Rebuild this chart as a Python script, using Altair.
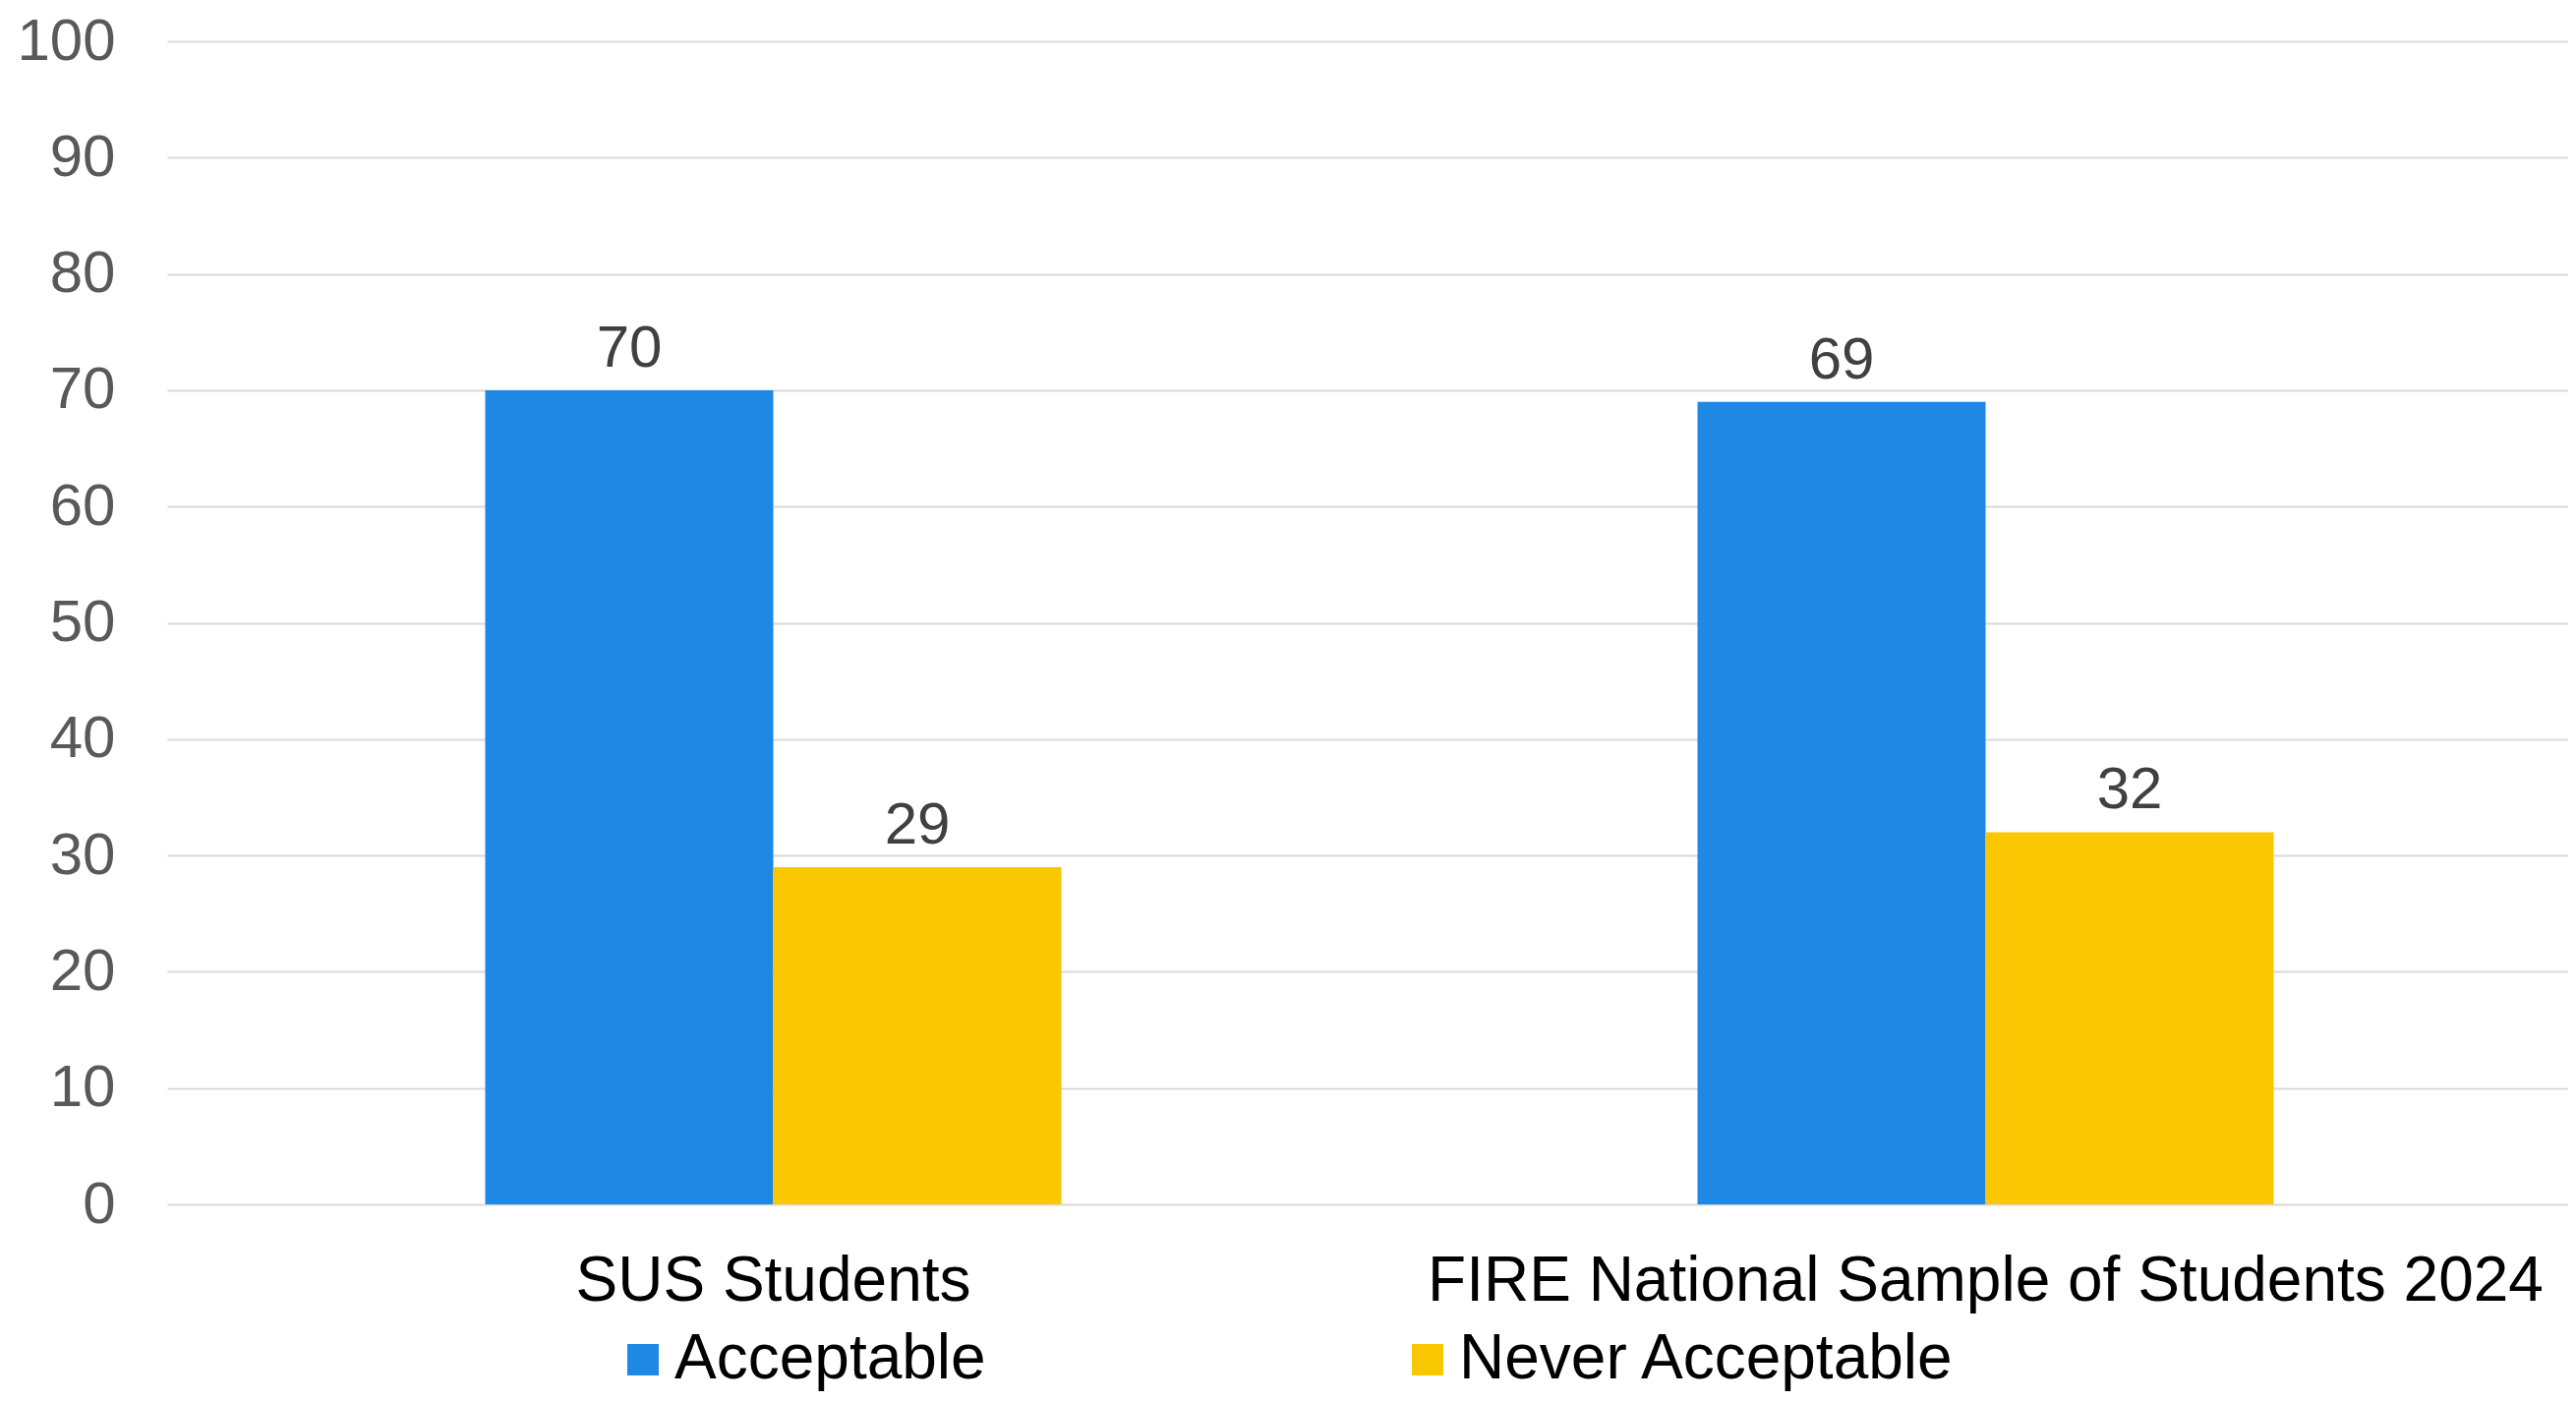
import altair as alt
import pandas as pd

categories = ["SUS Students", "FIRE National Sample of Students 2024"]
series = ["Acceptable", "Never Acceptable"]
acceptable = [70, 69]
never_acceptable = [29, 32]
colors = ["#1F88E5", "#F9C802"]
y_ticks = list(range(0, 101, 10))

rows = []
for c, a, n in zip(categories, acceptable, never_acceptable):
    rows.append({"category": c, "series": series[0], "value": a})
    rows.append({"category": c, "series": series[1], "value": n})
df = pd.DataFrame(rows)

FONT = "Liberation Sans"

x = alt.X(
    "category:N", sort=categories, title=None,
    scale=alt.Scale(range=[0, 2466], paddingInner=0, paddingOuter=0),
    axis=alt.Axis(labelAngle=0, labelFontSize=64, labelColor="#000000", labelFont=FONT,
                  ticks=False, domain=False, labelPadding=46, labelLimit=2000),
)
xo = alt.XOffset("series:N", sort=series,
                 scale=alt.Scale(range=[323.5, 909.5], paddingInner=0, paddingOuter=0))
y = alt.Y(
    "value:Q", title=None, scale=alt.Scale(domain=[0, 100], nice=False),
    axis=alt.Axis(values=y_ticks, labelFontSize=60, labelColor="#595959", labelFont=FONT,
                  ticks=False, domain=False, labelPadding=53,
                  gridColor="#D9D9D9", gridWidth=2),
)
color = alt.Color(
    "series:N", sort=series, scale=alt.Scale(domain=series, range=colors),
    legend=alt.Legend(title=None, orient="none", legendX=452, legendY=1309,
                      direction="horizontal", symbolType="square", symbolSize=1024,
                      symbolStrokeWidth=0, symbolOpacity=1, labelFontSize=64, labelFont=FONT,
                      labelColor="#000000", labelOffset=0, columnPadding=417,
                      labelLimit=2000, padding=0),
)

bars = alt.Chart(df).mark_bar(opacity=1).encode(x=x, xOffset=xo, y=y, color=color)
labels = alt.Chart(df).mark_text(
    baseline="alphabetic", dy=-24, fontSize=60, font=FONT, color="#404040"
).encode(x=x, xOffset=xo, y=y, text="value:Q")

chart = (
    (bars + labels)
    .properties(
        width=2442, height=1183,
        padding={"left": 162, "top": 34, "right": 0, "bottom": 193},
        autosize=alt.AutoSizeParams(type="none"),
    )
    .configure_view(stroke=None)
)

chart.save("out.html", embed_options={"renderer": "svg", "actions": False})
